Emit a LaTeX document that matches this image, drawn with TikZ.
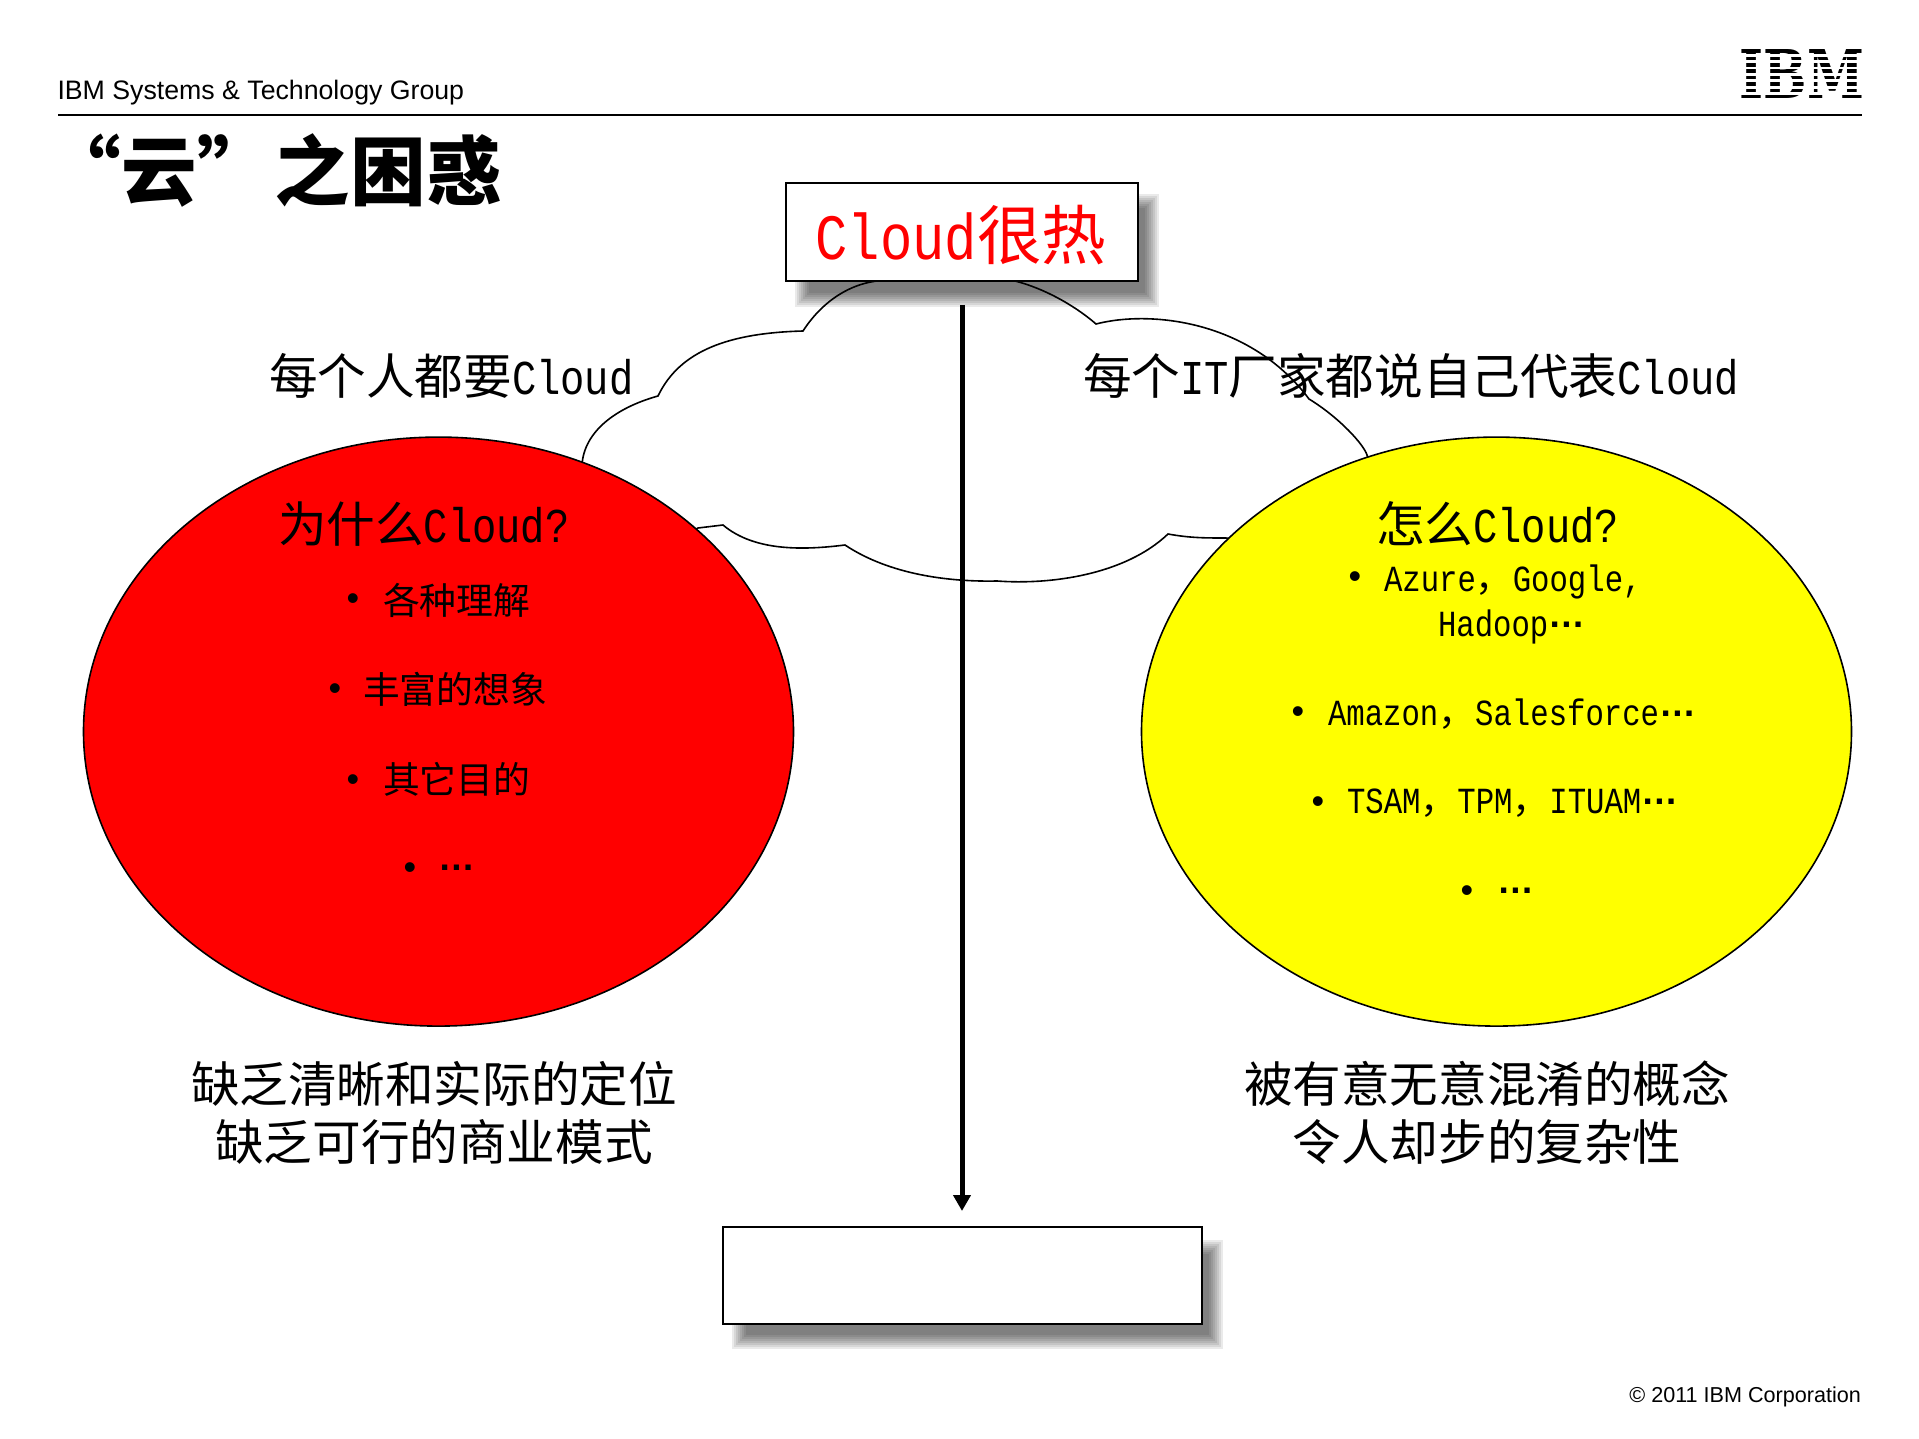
\documentclass[tikz,border=0pt]{standalone}
\usepackage{fontspec}
\usetikzlibrary{shapes.geometric,arrows.meta}
\setmainfont{Liberation Sans}
\newfontfamily\cjk{Noto Sans CJK SC}
\newfontfamily\lat[FakeStretch=0.833]{Liberation Mono}
\newfontfamily\logof{DejaVu Serif}
\definecolor{pureyellow}{RGB}{255,255,0}
\definecolor{purered}{RGB}{255,0,0}
\newcommand{\Ps}[1]{\fontsize{#1}{#1}\selectfont}
\newcommand{\cdotsq}{\raisebox{0.25em}{\rmfamily\bfseries …}}
\newcommand{\softshadow}[4]{%
  \foreach \k in {0,...,7}{%
    \fill[black,opacity=0.083] ({#1-7+2*\k},{#2-7+2*\k}) rectangle ({#3+7-2*\k},{#4+7-2*\k});
  }}
\tikzset{
  x=0.5pt,y=-0.5pt,
  every node/.style={inner sep=0pt,outer sep=0pt},
  big/.style={font=\cjk\Ps{24.3}},
  item/.style={font=\cjk\Ps{18.4},anchor=west},
  bul/.style={font=\Ps{18}},
  hbox/.style={draw=black,line width=1pt,fill=white,minimum width=176pt,minimum height=49pt},
  lbox/.style={draw=black,line width=1pt,fill=white,minimum width=239.5pt,minimum height=48.5pt},
}
\begin{document}
\begin{tikzpicture}
\useasboundingbox (0,0) rectangle (1919,1439);
% header
\node[anchor=west,font=\Ps{13.35}] (hdr) at (57.5,93) {IBM Systems \& Technology Group};
\coordinate (ruleL) at (58,115); \coordinate (ruleR) at (1862,115);
\draw[line width=1pt] (ruleL) -- (ruleR);
% logo
\node[font=\logof\bfseries\Ps{33.6},anchor=center,xscale=0.765] (logo) at (1802,74.5) {IBM};
\foreach \yy in {0,...,6}{\fill[white] (1735,{53.7+6.45*\yy}) rectangle (1870,{53.7+6.45*\yy+2.9});}
% title
\node[anchor=west,font=\cjk\bfseries\Ps{37.8}] (title) at (46,171) {“云”\hspace{0.03em}之困惑};
% cloud
\draw[line width=0.8pt,fill=white]
 (582,465)
 .. controls (584,432) and (615,408) .. (658,396)
 .. controls (680,350) and (730,333) .. (803,331)
 .. controls (825,297) and (860,276) .. (900,281)
 -- (1015,281)
 .. controls (1050,290) and (1080,310) .. (1096,324)
 .. controls (1150,310) and (1250,320) .. (1309,399)
 .. controls (1340,418) and (1364,445) .. (1367,455)
 -- (1400,560) -- (1226,538)
 .. controls (1205,538) and (1190,538) .. (1168,534)
 .. controls (1125,575) and (1050,585) .. (997,581)
 .. controls (950,582) and (890,575) .. (845,545)
 .. controls (805,550) and (755,552) .. (723,525)
 -- (698,528) -- (640,560) -- cycle;
% ellipses
\node[draw=black,line width=0.8pt,fill=purered,ellipse,minimum width=355pt,minimum height=294.5pt] (why) at (438.5,731.6) {};
\node[draw=black,line width=0.8pt,fill=pureyellow,ellipse,minimum width=355pt,minimum height=294.5pt] (how) at (1496.5,731.6) {};
% boxes
\softshadow{802}{201}{1152}{300}
\node[hbox] (hot) at (962,232) {};
\node[font=\cjk\Ps{32.3},text=purered] (hotL) at (961,235) {{\lat Cloud}很热};
\softshadow{739}{1247}{1216}{1342}
\node[lbox] (blank) at (962,1275.5) {};
% arrow
\draw[line width=2.5pt,-{Triangle[length=8pt,width=8.5pt]},shorten <=12pt,shorten >=8pt]
  (hot.south -| blank.north) -- (blank.north);
% headings
\node[big,anchor=west] (everyone) at (269,376) {每个人都要{\lat Cloud}};
\node[big,anchor=west] (vendors) at (1083,376) {每个{\lat IT}厂家都说自己代表{\lat Cloud}};
\node[big,anchor=west] (whyH) at (278,524) {为什么{\lat Cloud?}};
\node[big,anchor=west] (howH) at (1376,524) {怎么{\lat Cloud?}};
% left list
\node[bul] (b1) at (352.8,602) {•}; \node[item] (t1) at (383,600) {各种理解};
\node[bul] (b2) at (334.8,692) {•}; \node[item] (t2) at (363,689) {丰富的想象};
\node[bul] (b3) at (352.8,783) {•}; \node[item] (t3) at (383,779) {其它目的};
\node[bul] (b4) at (409.8,871) {•}; \node[item] (t4) at (438,872) {\cdotsq};
% right list
\node[bul] (r1) at (1355,580) {•}; \node[item] (u1) at (1384,582) {{\lat Azure}，{\lat Google,}};
\node[item] (u1b) at (1438,627) {{\lat Hadoop}\cdotsq};
\node[bul] (r2) at (1298,715) {•}; \node[item] (u2) at (1328,714) {{\lat Amazon}，{\lat Salesforce}\cdotsq};
\node[bul] (r3) at (1318,805) {•}; \node[item] (u3) at (1347,803) {{\lat TSAM}，{\lat TPM}，{\lat ITUAM}\cdotsq};
\node[bul] (r4) at (1467,894) {•}; \node[item] (u4) at (1497,895) {\cdotsq};
% bottom captions
\node[big] (c1) at (434,1084) {缺乏清晰和实际的定位};
\node[big] (c2) at (434,1142) {缺乏可行的商业模式};
\node[big] (c3) at (1487,1084) {被有意无意混淆的概念};
\node[big] (c4) at (1487,1142) {令人却步的复杂性};
% footer
\node[anchor=east,font=\Ps{10.8}] (foot) at (1861,1397) {© 2011 IBM Corporation};
\end{tikzpicture}
\end{document}
